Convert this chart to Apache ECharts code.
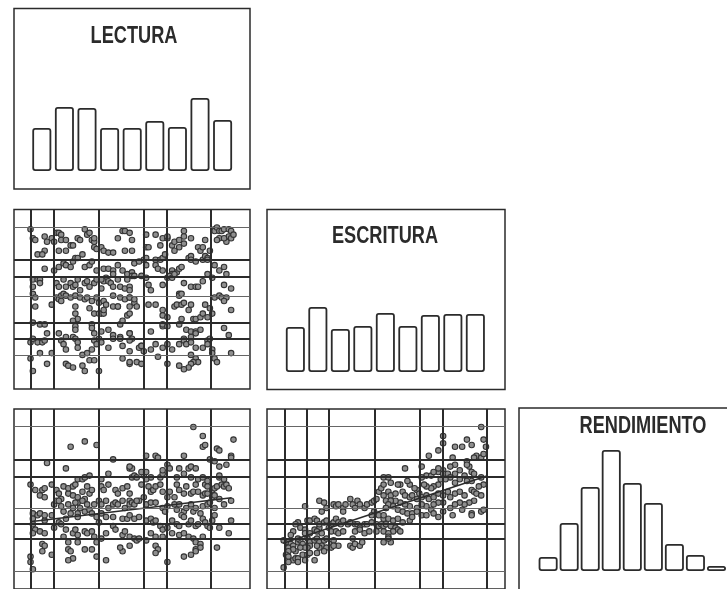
<!DOCTYPE html>
<html><head><meta charset="utf-8">
<script src="https://cdn.jsdelivr.net/npm/echarts@6/dist/echarts.min.js"></script>
<style>html,body{margin:0;padding:0;background:#fff}#c{width:727px;height:589px}</style>
</head><body><div id="c"></div>
<script>
// ---------- DATA ----------
const binLabels = ['1','2','3','4','5','6','7','8','9'];
const lecturaFreq = [43,64,63,43,43,50,44,73,51];
const escrituraFreq = [45,65,43,46,59,46,57,58,58];
const rendimientoFreq = [14,48,84,121,88,68,27,16,5];

// reference cut lines (percent scale of each variable)
const lecturaCuts = [7.2,16.7,35.8,55.1,64.7,83.5];
const escrituraCutsX = [7.4,16.5,26.1,45.2,64.2,73.7,92.3];
const escrituraCutsMajor = [71.9,62.5,36.8,27.8];
const escrituraCutsMinor = [90.1,51.4,19.0];
const rendimientoCutsMajor = [71.7,62.6,36.5,27.8];
const rendimientoCutsMinor = [90.2,44.8,9.6];

// fitted regression lines
const fitLecturaRend = [[6.8,37.4],[92.2,50.7]];
const fitEscrituraRend = [[6.8,25.4],[92.3,62.8]];

// LECTURA (x) vs ESCRITURA (y)
const lecturaEscritura = [
[7,89],[8,84],[9,83],[13,85],[14,82],[13,77],[10,75],[12,75],[16,84],[18,87],[19,87],[20,86],[20,83],[17,82],[19,77],[22,77],[22,83],[24,80],[25,80],[27,84],[28,83],[30,89],[31,86],[32,87],[33,83],[34,82],[34,84],[34,79],[35,78],[37,79],[38,77],[40,76],[42,76],[46,88],[47,88],[49,87],[44,84],[50,83],[50,77],[47,77],
[13,67],[17,66],[19,68],[21,70],[22,69],[24,68],[25,71],[26,73],[27,73],[29,75],[30,68],[32,69],[33,71],[35,66],[38,67],[40,67],[42,66],[42,64],[44,69],[46,66],[48,64],[50,65],[39,62],[38,60],[37,61],
[8,61],[10,61],[11,61],[8,57],[8,53],[11,59],[18,59],[19,57],[21,61],[22,57],[24,59],[25,57],[26,58],[27,61],[28,55],[30,59],[31,60],[32,57],[34,59],[35,61],[37,56],[40,60],[41,59],[42,57],[44,61],[45,57],[47,56],[48,61],[49,57],
[9,51],[9,46],[16,47],[18,51],[19,50],[20,52],[20,49],[21,53],[22,52],[24,51],[26,52],[28,51],[30,50],[31,51],[33,49],[35,51],[36,48],[38,49],[39,47],[42,52],[44,46],[45,51],[47,50],[49,51],[51,48],
[26,46],[26,42],[27,39],[32,45],[34,42],[36,42],[37,42],[38,42],[38,44],[42,46],[44,46],[45,36],[46,38],[48,41],[49,42],
[8,37],[11,36],[13,36],[25,38],[26,35],[26,33],[33,36],[33,34],[34,31],[37,32],[40,33],[42,30],[45,29],[49,31],[50,28],
[7,26],[8,28],[10,26],[12,26],[13,27],[14,31],[19,31],[20,27],[21,25],[22,22],[22,29],[25,29],[26,28],[27,26],[27,23],[29,19],[31,20],[33,22],[34,27],[35,25],[36,28],[37,26],[40,23],[42,28],[45,28],[46,24],[49,27],
[7,17],[8,10],[11,20],[14,14],[16,20],[22,14],[23,13],[25,12],[29,13],[30,10],[32,16],[34,16],[36,10],[46,17],[49,14],
[56,86],[56,79],[57,79],[60,86],[63,84],[62,80],[65,84],[65,85],[67,80],[68,82],[70,83],[70,79],[68,77],[72,88],[72,85],[72,81],[75,84],[78,79],[79,77],[80,79],[81,83],[83,77],[85,89],[85,88],[86,90],[87,88],[88,88],[89,89],[91,89],[92,88],[91,85],[92,84],[90,82],[87,84],[86,83],[89,84],[93,86],
[51,70],[53,71],[55,72],[56,73],[56,69],[60,72],[60,69],[62,72],[63,73],[64,75],[61,67],[63,66],[67,66],[67,64],[69,65],[70,67],[71,68],[74,73],[75,74],[75,72],[77,71],[80,72],[81,74],[82,73],[82,72],[85,69],[87,66],[89,68],[90,64],[50,63],
[51,63],[54,63],[56,62],[57,58],[58,55],[63,58],[65,62],[66,63],[67,62],[68,64],[72,59],[75,57],[77,57],[78,57],[80,60],[82,64],[84,62],[89,58],[92,56],[70,53],[70,52],[71,53],[49,55],[49,51],
[51,50],[52,46],[49,46],[57,47],[60,47],[63,44],[63,41],[65,40],[68,46],[69,47],[71,47],[72,48],[75,47],[74,44],[76,39],[77,39],[79,40],[80,42],[81,47],[83,45],[85,51],[87,52],[88,51],[90,51],[89,49],[92,44],[84,42],[82,40],[71,39],
[49,31],[54,24],[58,32],[63,35],[63,36],[65,35],[70,36],[73,33],[75,32],[77,32],[77,31],[79,33],[72,28],[75,29],[82,27],[83,28],[89,34],[91,30],
[53,23],[54,24],[55,21],[58,22],[60,25],[63,23],[65,25],[67,22],[70,25],[72,27],[73,25],[75,26],[77,23],[80,23],[82,25],[84,22],[84,20],[85,17],[86,15],[75,19],[77,16],[77,17],[78,15],[76,15],[75,14],[74,12],[72,11],[70,13],[65,14],[61,18],[92,20],[52,15],[54,14],[49,21],[49,15]
];

// LECTURA (x) vs RENDIMIENTO (y)
const lecturaRendimiento = [
[24,79],[30,82],[35,80],[14,70],[22,67],[42,72],[7,58],[9,55],[12,55],[11,52],[13,51],[13,56],[16,58],[18,55],[19,53],[20,50],[21,57],[23,53],[23,56],[25,57],[25,52],[26,58],[27,61],[29,61],[30,62],[32,63],[31,57],[32,53],[33,55],[29,54],[27,48],[27,51],[30,50],[37,57],[38,55],[40,58],[40,64],[37,61],[43,55],[44,53],[46,56],[48,57],[49,53],[50,62],[49,67],[50,67],
[8,42],[8,39],[10,41],[11,42],[13,38],[13,41],[16,41],[17,47],[18,49],[19,49],[20,46],[21,43],[22,39],[23,47],[24,42],[25,45],[26,48],[27,42],[27,40],[28,45],[29,49],[30,43],[31,47],[32,44],[33,42],[34,47],[35,40],[36,49],[37,47],[39,49],[40,45],[42,47],[43,48],[44,47],[46,49],[47,45],[49,49],[49,47],[37,42],[39,40],[42,40],[46,39],[48,39],[36,37],
[8,36],[9,33],[11,32],[13,31],[8,31],[17,34],[19,37],[20,36],[22,33],[21,29],[23,26],[25,31],[26,33],[27,30],[30,32],[31,31],[33,32],[34,29],[35,26],[37,28],[39,31],[42,35],[43,33],[46,30],[47,32],[49,29],[49,24],[46,21],[45,23],
[12,25],[13,24],[12,21],[16,19],[23,22],[24,21],[25,17],[23,16],[27,26],[30,22],[33,22],[35,18],[39,16],[7,18],[7,15],[8,11],
[76,90],[80,85],[80,79],[81,80],[86,78],[87,77],[93,83],[92,74],[92,73],[56,74],[60,74],[61,73],[72,74],[83,72],[85,71],[87,68],[90,69],[49,68],[51,63],[52,62],[55,63],[54,65],[56,65],[58,62],[62,62],[63,64],[63,66],[65,69],[66,67],[69,62],[70,67],[72,64],[74,67],[75,68],[77,67],[75,62],[78,61],[80,62],[77,58],[81,58],[82,57],[82,60],[84,55],[85,56],[86,57],[87,62],[87,63],[88,58],[89,57],[90,58],[89,61],[91,56],[92,49],[89,47],[87,50],
[50,48],[51,47],[53,49],[54,58],[56,61],[57,57],[58,54],[59,55],[60,57],[62,58],[63,54],[65,51],[66,54],[68,51],[69,58],[70,55],[72,53],[73,57],[75,53],[76,54],[78,54],[80,52],[81,53],[82,53],[84,51],[85,52],[52,49],[55,51],[56,47],[58,48],[60,48],[63,45],[64,43],[65,46],[68,47],[69,44],[70,47],[72,43],[73,45],[75,47],[76,43],[77,45],[79,42],[80,46],[82,47],[83,48],[85,45],[85,41],[84,38],
[49,41],[51,39],[53,40],[56,38],[58,39],[59,37],[60,38],[62,35],[63,33],[65,34],[67,38],[69,36],[70,35],[71,41],[72,40],[74,36],[75,38],[77,35],[78,36],[80,39],[81,37],[82,35],[83,34],[87,34],[92,38],[91,31],
[51,28],[52,27],[53,28],[56,27],[58,31],[60,29],[63,29],[67,31],[70,30],[72,31],[74,29],[76,28],[77,26],[79,25],[80,29],[77,22],[79,23],[77,21],[72,18],[75,19],[60,24],[61,22],[60,20],[65,15],[86,23]
];

// ESCRITURA (x) vs RENDIMIENTO (y)
const escrituraRendimiento = [
[16,46],[22,49],[24,48],[25,45],[23,43],[28,47],[29,46],[30,47],[32,45],[32,43],[33,47],[35,50],[36,47],[38,49],[37,45],[39,47],[41,45],[42,47],[44,48],[45,49],[46,50],[47,54],[48,56],[49,58],[49,62],[49,52],[50,49],[50,45],[45,43],[44,41],[47,41],[49,39],
[13,37],[12,36],[14,34],[16,33],[17,38],[18,38],[20,39],[21,38],[22,34],[22,36],[24,37],[25,38],[27,36],[28,37],[29,39],[30,37],[31,36],[32,38],[34,36],[35,37],[37,36],[38,36],[39,34],[41,36],[42,36],[44,37],[46,36],[47,35],[48,36],[49,35],[26,34],[27,32],[29,32],[30,31],[32,32],[37,32],[39,33],[41,31],[43,32],[46,32],[49,32],[20,33],[21,32],[23,31],[18,31],[16,31],[11,32],[10,30],
[7,27],[9,26],[10,25],[9,23],[11,24],[13,26],[14,27],[15,25],[13,28],[17,28],[18,26],[20,27],[21,28],[22,26],[24,27],[25,28],[27,25],[28,27],[30,24],[23,24],[25,23],[22,23],[21,24],[18,24],[17,23],[16,23],[14,23],[12,21],[11,22],[9,21],[8,19],[9,18],[11,16],[12,17],[13,17],[15,19],[17,19],[18,20],[21,20],[24,21],[27,23],[28,24],[20,16],[16,16],[35,24],[36,23],[37,25],[39,24],[40,26],[36,28],[7,12],[9,15],[13,15],
[90,90],[74,85],[74,81],[72,77],[68,74],[79,79],[82,79],[84,83],[86,80],[91,83],[92,79],[88,74],[90,73],[91,75],[87,73],[84,71],[85,68],[84,69],[79,69],[78,73],[77,68],[74,66],[72,65],[72,67],[65,68],[58,67],[67,63],[65,62],[69,63],[70,65],[74,64],[76,64],[79,64],[81,66],[83,63],[86,65],[87,64],[90,62],[91,58],[89,57],[86,60],[84,60],[81,61],[79,59],[77,62],[75,61],[73,61],[72,58],[70,57],[69,56],[67,57],[66,58],[63,55],[62,56],[60,58],[59,60],[56,58],[55,58],[52,59],[51,62],
[51,54],[52,52],[54,53],[57,54],[58,52],[60,51],[61,52],[63,50],[64,53],[65,51],[67,52],[68,50],[70,51],[72,53],[74,52],[76,54],[77,51],[79,53],[81,54],[83,52],[86,55],[87,54],[88,53],[90,52],[87,49],[85,48],[83,47],[81,48],[79,47],[77,45],[74,48],[72,48],[70,47],[69,44],[67,46],[65,47],[63,45],[60,46],[58,47],[56,48],[54,49],[52,49],[51,47],[50,45],[53,46],[55,44],[57,43],[59,42],[61,42],[63,43],[65,41],[67,41],[70,42],[72,40],[74,43],[78,41],[86,42],[86,41],[90,43],[91,44],[82,44],
[49,41],[51,39],[53,38],[55,39],[57,37],[60,38],[61,40],[50,36],[52,35],[54,34],[55,33],[53,32],[51,31],[51,29],[52,26],[51,28],[49,26],[56,32]
];

// ---------- CHART ----------
const ink = '#2b2b2b';
const chart = echarts.init(document.getElementById('c'), null, {renderer: 'canvas'});

function cutLines(xMajor, yMajor, yMinor) {
  const d = [];
  xMajor.forEach(v => d.push({xAxis: v, lineStyle: {width: 2, color: ink, type: 'solid'}}));
  yMajor.forEach(v => d.push({yAxis: v, lineStyle: {width: 2, color: ink, type: 'solid'}}));
  yMinor.forEach(v => d.push({yAxis: v, lineStyle: {width: 1, color: '#666', type: 'solid'}}));
  return {silent: true, symbol: ['none', 'none'], label: {show: false}, animation: false,
    lineStyle: {type: 'solid'}, data: d};
}
function scatter(idx, data, ml) {
  return {type: 'scatter', xAxisIndex: idx, yAxisIndex: idx, data: data, symbol: 'circle', symbolSize: 5.5,
    itemStyle: {color: '#8f8f8f', borderColor: '#333', borderWidth: 1.1, opacity: 1}, markLine: ml, z: 3};
}
function hist(idx, data) {
  return {type: 'bar', xAxisIndex: idx, yAxisIndex: idx, data: data, barWidth: 19,
    itemStyle: {color: '#fff', borderColor: ink, borderWidth: 1.8, borderRadius: 2}};
}
const valAx = (g) => ({type: 'value', gridIndex: g, min: 0, max: 100, show: false});
const catAx = (g) => ({type: 'category', gridIndex: g, data: binLabels, show: false});
const cntAx = (g, m) => ({type: 'value', gridIndex: g, min: 0, max: m, show: false});
const titleFont = 'bold 23px "Liberation Sans", Arial, sans-serif';
function title(text, x, y) {
  return {type: 'text', x: x, y: y, z: 10, scaleX: 0.79, scaleY: 1,
    style: {text: text, fill: ink, font: titleFont,
      align: 'center', verticalAlign: 'middle', textAlign: 'center', textVerticalAlign: 'middle'}};
}
function frame(x, y, w, h) {
  return {type: 'rect', shape: {x: x, y: y, width: w, height: h}, z: 0,
    style: {fill: 'none', stroke: ink, lineWidth: 1.5}};
}
const gridBox = {show: true, borderColor: ink, borderWidth: 1.5, backgroundColor: 'transparent'};

chart.setOption({
  animation: false,
  backgroundColor: '#fff',
  grid: [
    Object.assign({left: 14, top: 209.5, width: 236, height: 179.5}, gridBox),
    Object.assign({left: 14, top: 409, width: 236, height: 180}, gridBox),
    Object.assign({left: 267, top: 409, width: 238, height: 180}, gridBox),
    {left: 30.5, top: 71, width: 203.4, height: 100},
    {left: 284.1, top: 272, width: 202.5, height: 100},
    {left: 537.6, top: 441, width: 204, height: 130}
  ],
  xAxis: [valAx(0), valAx(1), valAx(2), catAx(3), catAx(4), catAx(5)],
  yAxis: [valAx(0), valAx(1), valAx(2), cntAx(3, 100), cntAx(4, 100), cntAx(5, 130)],
  series: [
    scatter(0, lecturaEscritura, cutLines(lecturaCuts, escrituraCutsMajor, escrituraCutsMinor)),
    scatter(1, lecturaRendimiento, cutLines(lecturaCuts, rendimientoCutsMajor, rendimientoCutsMinor)),
    scatter(2, escrituraRendimiento, cutLines(escrituraCutsX, rendimientoCutsMajor, rendimientoCutsMinor)),
    {type: 'line', xAxisIndex: 1, yAxisIndex: 1, data: fitLecturaRend, symbol: 'none', lineStyle: {color: ink, width: 1.5}, z: 4},
    {type: 'line', xAxisIndex: 2, yAxisIndex: 2, data: fitEscrituraRend, symbol: 'none', lineStyle: {color: ink, width: 1.5}, z: 4},
    hist(3, lecturaFreq), hist(4, escrituraFreq), hist(5, rendimientoFreq)
  ],
  graphic: [
    frame(14, 8.5, 236, 180.5), frame(267, 209.5, 238, 180), frame(519, 408, 245, 182),
    title('LECTURA', 134, 37), title('ESCRITURA', 385, 237), title('RENDIMIENTO', 643, 427)
  ]
});
</script></body></html>
